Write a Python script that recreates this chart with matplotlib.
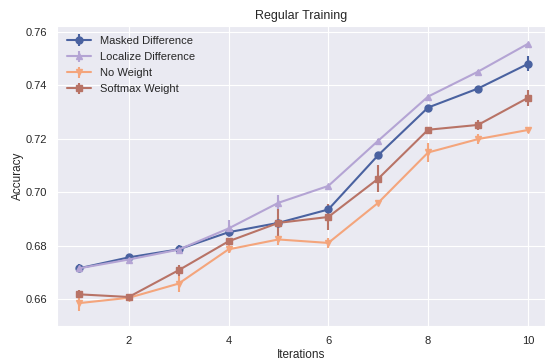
import numpy as np
import matplotlib
matplotlib.use("Agg")
import matplotlib.pyplot as plt
import seaborn as sns

sns.set_style("darkgrid")
plt.rcParams['font.family'] = ['Liberation Sans', 'DejaVu Sans']

# data
iters = [1, 2, 3, 4, 5, 6, 7, 8, 9, 10]
masked = [0.6716, 0.6757, 0.6787, 0.6851, 0.6886, 0.6936, 0.7139, 0.7317, 0.7388, 0.7480]
masked_err = [0.0015, 0.001, 0.0015, 0.001, 0.001, 0.001, 0.001, 0.001, 0.001, 0.0028]
localize = [0.6716, 0.6749, 0.6786, 0.6865, 0.6961, 0.7024, 0.7193, 0.7358, 0.7451, 0.7555]
localize_err = [0.001, 0.001, 0.0015, 0.003, 0.003, 0.0005, 0.0005, 0.0005, 0.0005, 0.0005]
noweight = [0.6586, 0.6606, 0.6659, 0.6787, 0.6824, 0.6811, 0.6961, 0.7149, 0.7199, 0.7233]
noweight_err = [0.0030, 0.001, 0.0030, 0.0015, 0.002, 0.002, 0.001, 0.0035, 0.002, 0.001]
softmax = [0.6619, 0.6609, 0.6709, 0.6817, 0.6886, 0.6908, 0.7051, 0.7234, 0.7252, 0.7353]
softmax_err = [0.0015, 0.0005, 0.002, 0.001, 0.005, 0.005, 0.005, 0.0005, 0.002, 0.003]

series = [
    ("Masked Difference", masked, masked_err, "#4a62a0", "o"),
    ("Localize Difference", localize, localize_err, "#b4a4d4", "^"),
    ("No Weight", noweight, noweight_err, "#f4a57c", "v"),
    ("Softmax Weight", softmax, softmax_err, "#b87366", "s"),
]

fig, ax = plt.subplots(figsize=(5.47, 3.6), dpi=100)
for name, y, e, c, m in series:
    ax.errorbar(iters, y, yerr=e, color=c, marker=m, markersize=5, lw=1.5,
                elinewidth=1.5, capsize=0, label=name)

ax.set_xlim(0.56, 10.34)
ax.set_ylim(0.650, 0.7622)
ax.set_xticks([2, 4, 6, 8, 10])
ax.set_yticks([0.66, 0.68, 0.70, 0.72, 0.74, 0.76])
ax.tick_params(labelsize=8)
ax.set_xlabel("Iterations", fontsize=8.5, labelpad=2)
ax.set_ylabel("Accuracy", fontsize=8.5, labelpad=1)
ax.set_title("Regular Training", fontsize=9, pad=5)
ax.legend(loc="upper left", frameon=False, fontsize=8, handlelength=2.2,
          labelspacing=0.55, borderaxespad=0.5)
plt.subplots_adjust(left=0.104, right=0.996, top=0.928, bottom=0.094)
plt.savefig("out.png")
